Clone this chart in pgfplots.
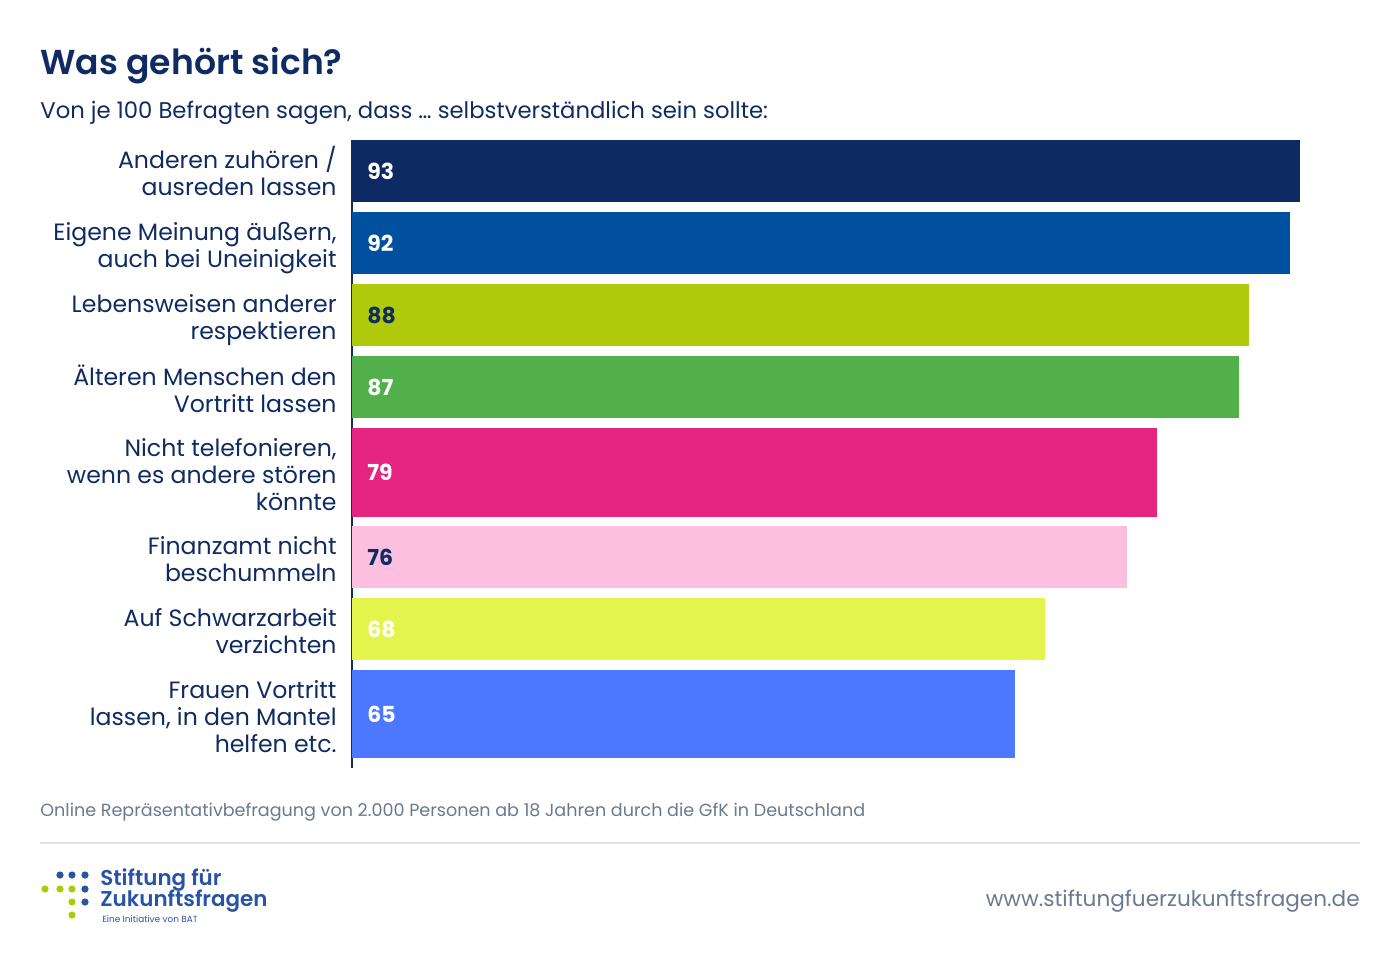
\documentclass[border=0pt]{standalone}
\usepackage{pgfplots}
\pgfplotsset{compat=1.18}
\usepackage{fontspec}
\setmainfont{Poppins}
\newfontfamily\semib{Poppins SemiBold}
\definecolor{navy}{HTML}{0F2B62}
\definecolor{cA}{HTML}{0E2A63}
\definecolor{cB}{HTML}{0050A0}
\definecolor{cC}{HTML}{AFCA0B}
\definecolor{cD}{HTML}{52B04A}
\definecolor{cE}{HTML}{E62582}
\definecolor{cF}{HTML}{FDBFDF}
\definecolor{cG}{HTML}{E3F54C}
\definecolor{cH}{HTML}{4C78FF}
\definecolor{foot}{HTML}{6B7890}
\definecolor{rule}{HTML}{DDE2EA}
\definecolor{logoblue}{HTML}{2953A6}
\definecolor{logogreen}{HTML}{AFCA0B}
\newcommand{\lab}[1]{\begin{tabular}{@{}r@{}}#1\end{tabular}}
\begin{document}
\begin{tikzpicture}[x=0.5pt,y=-0.5pt]
\path[use as bounding box] (0,0) rectangle (1400,953);
\node[anchor=base west,inner sep=0pt,text=navy,font=\fontsize{17.3}{20}\selectfont\semib] at (40,74) {Was gehört sich?};
\node[anchor=base west,inner sep=0pt,text=navy,font=\fontsize{11.36}{13}\selectfont] at (40,118) {Von je 100 Befragten sagen, dass \dots\ selbstverständlich sein sollte:};
\coordinate (AO) at (352,140);
\begin{axis}[
  at={(AO)}, anchor=north west,
  scale only axis, width=509.7pt, height=314pt,
  xmin=0, xmax=100, ymin=140, ymax=768, y dir=reverse,
  axis x line=none, axis y line=left,
  axis line style={-, draw=navy, line width=1pt},
  ytick={171,243,315,387,472,557,629,714},
  yticklabels={{\lab{Anderen zuhören \smash{/}\\ausreden lassen}},
               {\lab{Eigene Meinung äußern,\\auch bei Uneinigkeit}},
               {\lab{Lebensweisen anderer\\respektieren}},
               {\lab{Älteren Menschen den\\Vortritt lassen}},
               {\lab{Nicht telefonieren,\\wenn es andere stören\\könnte}},
               {\lab{Finanzamt nicht\\beschummeln}},
               {\lab{Auf Schwarzarbeit\\verzichten}},
               {\lab{Frauen Vortritt\\lassen, in den Mantel\\helfen etc.}}},
  yticklabel style={anchor=east, inner sep=0pt, xshift=-7.5pt, yshift=-3pt, text=navy, font=\fontsize{11.8}{13.5}\selectfont},
  major tick length=0pt,
  clip=false,
  every node near coord/.append style={anchor=west, inner sep=0pt, xshift=7.5pt, font=\fontsize{11}{13}\selectfont\bfseries},
]
\addplot[xbar, bar width=62, fill=cA, draw=none] coordinates {(93,171)};
\addplot[xbar, bar width=62, fill=cB, draw=none] coordinates {(92,243)};
\addplot[xbar, bar width=62, fill=cC, draw=none] coordinates {(88,315)};
\addplot[xbar, bar width=62, fill=cD, draw=none] coordinates {(87,387)};
\addplot[xbar, bar width=89, fill=cE, draw=none] coordinates {(79,472)};
\addplot[xbar, bar width=62, fill=cF, draw=none] coordinates {(76,557)};
\addplot[xbar, bar width=62, fill=cG, draw=none] coordinates {(68,629)};
\addplot[xbar, bar width=88, fill=cH, draw=none] coordinates {(65,714)};
\addplot[draw=none, mark=none, nodes near coords, point meta=explicit symbolic, every node near coord/.append style={text=white}] coordinates {(0,171) [93] (0,243) [92] (0,387) [87] (0,472) [79] (0,629) [68] (0,714) [65]};
\addplot[draw=none, mark=none, nodes near coords, point meta=explicit symbolic, every node near coord/.append style={text=navy}] coordinates {(0,315) [88] (0,557) [76]};
\end{axis}
\node[anchor=base west,inner sep=0pt,text=foot,font=\fontsize{8.78}{10}\selectfont] at (40,816) {Online Repräsentativbefragung von 2.000 Personen ab 18 Jahren durch die GfK in Deutschland};
\draw[rule, line width=0.6pt] (40,843) -- (1360,843);
\foreach \x/\y in {60/875,72/875,85/875,85/889,85/902} \fill[logoblue] (\x,\y) circle (3.6);
\foreach \x/\y in {45/889,60/889,72/889,72/902,72/915} \fill[logogreen] (\x,\y) circle (3.6);
\node[anchor=base west,inner sep=0pt,text=logoblue,font=\fontsize{10.7}{12}\selectfont\semib] at (100,885) {Stiftung für};
\node[anchor=base west,inner sep=0pt,text=logoblue,font=\fontsize{10.7}{12}\selectfont\semib] at (100,906) {Zukunftsfragen};
\node[anchor=base west,inner sep=0pt,text=logoblue,font=\fontsize{4.45}{5}\selectfont] at (102,922) {Eine Initiative von BAT};
\node[anchor=base east,inner sep=0pt,text=foot,font=\fontsize{10.78}{12}\selectfont] at (1360,906) {www.stiftungfuerzukunftsfragen.de};
\end{tikzpicture}
\end{document}
